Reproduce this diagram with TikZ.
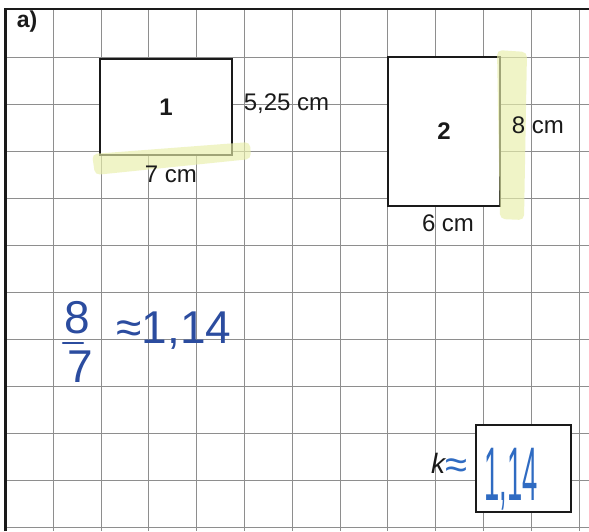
\documentclass[tikz,border=0pt]{standalone}
\usepackage{fontspec}
\setmainfont{Liberation Sans}
\usepackage{graphicx}
\usetikzlibrary{positioning}
\definecolor{paper}{HTML}{FFFFFF}
\definecolor{gridgray}{HTML}{8E8E8E}
\definecolor{ink}{HTML}{1A1A1A}
\definecolor{pen}{HTML}{2B4C9F}
\definecolor{pentwo}{HTML}{2F6BC2}
\definecolor{marker}{HTML}{E9EFAA}

\begin{document}
\begin{tikzpicture}[x=1pt,y=-1pt,
  gridline/.style={draw=gridgray,line width=.9pt},
  pageline/.style={draw=ink,line width=2.6pt},
  figbox/.style={draw=ink,fill=paper,line width=2.6pt,inner sep=0pt},
  lbl/.style={text=ink,font=\fontsize{24}{28}\selectfont},
  fignum/.style={text=ink,font=\fontsize{24}{28}\selectfont\bfseries},
  hand/.style={text=pen,font=\fontsize{46}{50}\selectfont},
  hilite/.style={fill=marker,opacity=.65,rounded corners=5pt}]
\fill[paper] (0,0) rectangle (589,531);
\useasboundingbox (0,0) rectangle (589,531);
% squared paper
\foreach \i in {1,...,12} \draw[gridline] ({5.5+47.8*\i},9) -- ({5.5+47.8*\i},531);
\foreach \j in {1,...,11} \draw[gridline] (5.5,{10+47*\j}) -- (589,{10+47*\j});
\draw[pageline] (5.5,531) -- (5.5,9) -- (589,9);
\node[text=ink,font=\fontsize{23}{28}\selectfont\bfseries] (a) at (27,22) {a)};
% the two rectangles
\node[figbox,fignum,minimum width=132pt,minimum height=96pt] (r1) at (166,107) {1};
\node[figbox,fignum,minimum width=112pt,minimum height=149pt] (r2) at (444,131.5) {2};
\fill[hilite] (92,154) -- (250,142) -- (251,159) -- (95,175) -- cycle;
\fill[hilite] (497,50) -- (527,52) -- (524,220) -- (500,219) -- cycle;
\node[lbl,right=7pt of r1,yshift=3pt] (h1) {5,25 cm};
\node[lbl,below=6pt of r1,xshift=5pt] (w1) {7 cm};
\node[lbl,right=7pt of r2,yshift=6pt] (h2) {8 cm};
\node[lbl,below=4pt of r2,xshift=4pt] (w2) {6 cm};
% handwritten ratio
\node[hand,inner xsep=0pt] (f8) at (77,318) {8};
\node[hand,inner xsep=0pt] (f7) at (80,367) {7};
\draw[pen,line width=2.2pt,line cap=round] ([xshift=-1pt,yshift=-5pt]f8.south west) -- ([xshift=-7pt,yshift=-5pt]f8.south east);
\node[hand,anchor=base west] (q) at (113,343) {≈1,14};
% answer box
\node[figbox,minimum width=95pt,minimum height=87pt] (kb) at (523.5,468.5) {};
\node[text=pentwo,font=\fontsize{76}{80}\selectfont,anchor=base] (kv) at (511,500) {\scalebox{.36}[1]{1,14}};
\node[text=ink,font=\fontsize{28}{30}\selectfont,left=4pt of kb,yshift=3pt] (k) {\itshape k\textcolor{pentwo}{\fontsize{40}{40}\selectfont\upshape\raisebox{-5pt}{≈}}};
\end{tikzpicture}
\end{document}
